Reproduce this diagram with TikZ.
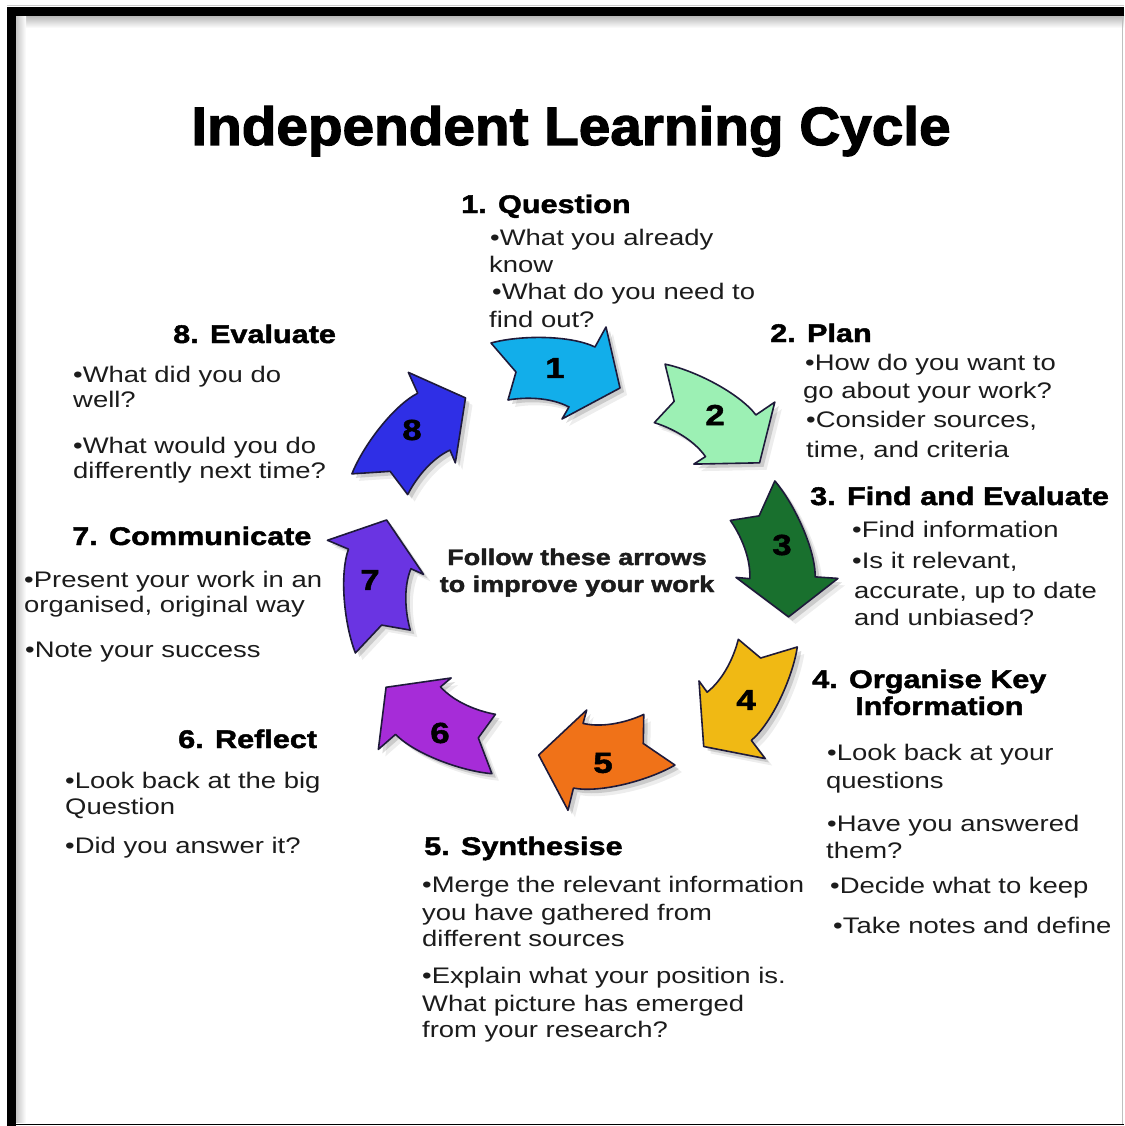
\documentclass[tikz,border=0pt]{standalone}
\usepackage{fontspec}
\setmainfont{Liberation Sans}
\newfontfamily\bodyfam{Liberation Sans}[FakeStretch=1.22]
\newfontfamily\headfam{Liberation Sans}[FakeStretch=1.2,BoldFeatures={FakeBold=1.8}]
\newfontfamily\titlefam{Liberation Sans}[FakeStretch=1.05,BoldFeatures={FakeBold=2.2}]
\definecolor{cA}{HTML}{12AEEA}
\definecolor{cB}{HTML}{9CF0B4}
\definecolor{cC}{HTML}{19702E}
\definecolor{cD}{HTML}{F0B914}
\definecolor{cE}{HTML}{F07218}
\definecolor{cF}{HTML}{A62CD8}
\definecolor{cG}{HTML}{6A34E2}
\definecolor{cH}{HTML}{2F2FE6}
\definecolor{edgec}{HTML}{1E1A3A}
\definecolor{textc}{HTML}{1C1C1C}
\tikzset{
  arrowline/.style={draw=edgec,line width=1.6pt,line join=round},
  pics/arrowbody/.style={code={%
    \draw[arrowline,fill=#1] (-69,32) .. controls (-40,40) and (10,40) .. (35,28) -- (46,48) -- (60,-13) -- (2,-44) -- (9,-32) .. controls (-10,-22) and (-35,-22) .. (-52,-25) -- (-44,3) -- cycle;}},
  pics/arrowshade/.style={code={%
    \fill[black,opacity=#1] (-69,32) .. controls (-40,40) and (10,40) .. (35,28) -- (46,48) -- (60,-13) -- (2,-44) -- (9,-32) .. controls (-10,-22) and (-35,-22) .. (-52,-25) -- (-44,3) -- cycle;}},
  body/.style={anchor=base west,inner sep=0pt,text=textc,font=\bodyfam\fontsize{22.5}{27}\selectfont},
  head/.style={anchor=base west,inner sep=0pt,text=black,font=\headfam\bfseries\fontsize{25.5}{30}\selectfont},
  centre/.style={anchor=base,inner sep=0pt,text=textc,font=\headfam\bfseries\fontsize{22.5}{27}\selectfont},
  num/.style={inner sep=0pt,text=black,font=\headfam\bfseries\fontsize{29}{29}\selectfont},
}
\newcommand\cyclearrow[4]{%
  \pic[shift={(7,-7)},rotate=#3] at (#1,#2) {arrowshade=0.07};
  \pic[shift={(4,-4)},rotate=#3] at (#1,#2) {arrowshade=0.14};
  \pic[rotate=#3] at (#1,#2) {arrowbody=#4};
}
\begin{document}
\begin{tikzpicture}[x=1pt,y=1pt]
\useasboundingbox (0,0) rectangle (1124,-1126);
\fill[white] (0,0) rectangle (1124,-1126);
% frame
\draw[gray!40,line width=1pt] (7,-6) -- (1124,-6);
\shade[top color=gray!55,bottom color=white] (16,-16) rectangle (1124,-28);
\shade[left color=gray!45,right color=white] (16,-16) rectangle (26,-1122);
\fill[black] (7,-7) rectangle (1124,-16);
\fill[black] (7,-7) rectangle (16,-1126);
\draw[black,line width=1.5pt] (7,-1124.5) -- (1124,-1124.5);
\draw[gray!50,line width=1pt] (1122,-16) -- (1122,-1124);

% title
\node[anchor=base,inner sep=0pt,font=\titlefam\bfseries\fontsize{54}{60}\selectfont] (title) at (571,-145) {Independent Learning Cycle};

% arrows
\cyclearrow{560}{-375}{0}{cA}
\cyclearrow{712}{-424}{-27}{cB}
\cyclearrow{775}{-557}{-65}{cC}
\cyclearrow{740}{-697}{-114}{cD}
\cyclearrow{600}{-752}{195}{cE}
\cyclearrow{438}{-720}{160}{cF}
\cyclearrow{380}{-581}{96}{cG}
\cyclearrow{419}{-438}{53}{cH}
\node[num] (n1) at (555,-368) {1};
\node[num] (n2) at (715,-415) {2};
\node[num] (n3) at (782,-545) {3};
\node[num] (n4) at (746,-700) {4};
\node[num] (n5) at (603,-763) {5};
\node[num] (n6) at (440,-733) {6};
\node[num] (n7) at (370,-580) {7};
\node[num] (n8) at (412,-430) {8};

% centre
\node[centre] (c1) at (577,-565) {Follow these arrows};
\node[centre] (c2) at (577,-592) {to improve your work};

% 1 Question
\node[head] (h1) at (461,-213) {1. Question};
\node[body] (q1) at (490,-245) {•What you already};
\node[body] (q2) at (489,-272) {know};
\node[body] (q3) at (492,-299) {•What do you need to};
\node[body] (q4) at (489,-327) {find out?};

% 2 Plan
\node[head] (h2) at (770,-342) {2. Plan};
\node[body] (p1) at (805,-370) {•How do you want to};
\node[body] (p2) at (803,-398) {go about your work?};
\node[body] (p3) at (806,-427) {•Consider sources,};
\node[body] (p4) at (806,-457) {time, and criteria};

% 3 Find and Evaluate
\node[head] (h3) at (810,-505) {3. Find and Evaluate};
\node[body] (f1) at (852,-537) {•Find information};
\node[body] (f2) at (852,-568) {•Is it relevant,};
\node[body] (f3) at (854,-598) {accurate, up to date};
\node[body] (f4) at (854,-625) {and unbiased?};

% 4 Organise
\node[head] (h4) at (812,-688) {4. Organise Key};
\node[head] (h4b) at (855,-715) {Information};
\node[body] (o1) at (827,-760) {•Look back at your};
\node[body] (o2) at (826,-788) {questions};
\node[body] (o3) at (827,-831) {•Have you answered};
\node[body] (o4) at (826,-858) {them?};
\node[body] (o5) at (830,-893) {•Decide what to keep};
\node[body] (o6) at (833,-933) {•Take notes and define};

% 5 Synthesise
\node[head] (h5) at (424,-855) {5. Synthesise};
\node[body] (s1) at (422,-892) {•Merge the relevant information};
\node[body] (s2) at (422,-920) {you have gathered from};
\node[body] (s3) at (422,-946) {different sources};
\node[body] (s4) at (422,-983) {•Explain what your position is.};
\node[body] (s5) at (422,-1011) {What picture has emerged};
\node[body] (s6) at (422,-1037) {from your research?};

% 6 Reflect
\node[head] (h6) at (178,-748) {6. Reflect};
\node[body] (r1) at (65,-788) {•Look back at the big};
\node[body] (r2) at (65,-814) {Question};
\node[body] (r3) at (65,-853) {•Did you answer it?};

% 7 Communicate
\node[head] (h7) at (72,-545) {7. Communicate};
\node[body] (m1) at (24,-587) {•Present your work in an};
\node[body] (m2) at (24,-612) {organised, original way};
\node[body] (m3) at (25,-657) {•Note your success};

% 8 Evaluate
\node[head] (h8) at (173,-343) {8. Evaluate};
\node[body] (e1) at (73,-382) {•What did you do};
\node[body] (e2) at (73,-407) {well?};
\node[body] (e3) at (73,-453) {•What would you do};
\node[body] (e4) at (73,-478) {differently next time?};
\end{tikzpicture}
\end{document}
